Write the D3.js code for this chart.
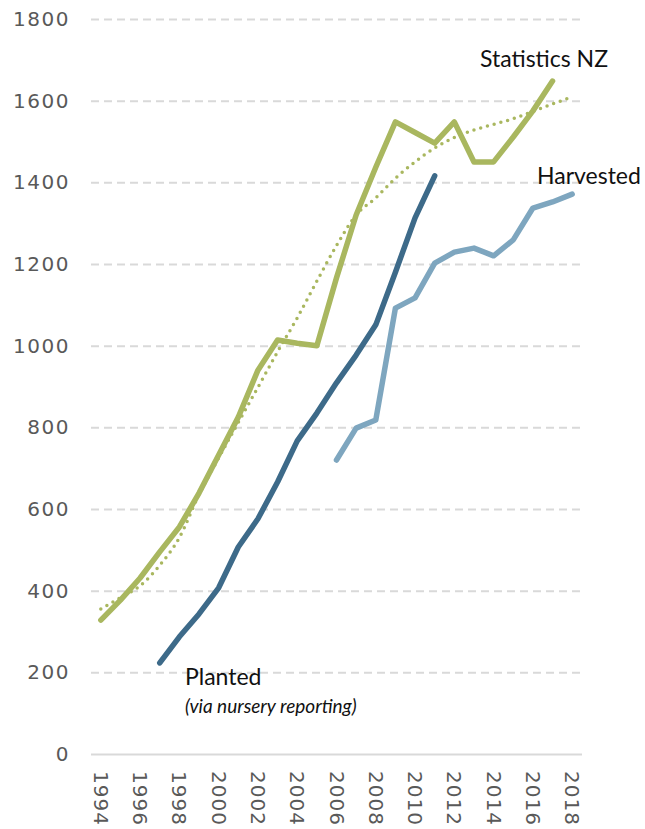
<!DOCTYPE html>
<html>
<head>
<meta charset="utf-8">
<script src="https://cdn.jsdelivr.net/npm/d3@7"></script>
<style>
  html, body { margin: 0; padding: 0; background: #fff; }
  svg { display: block; }
</style>
</head>
<body>
<svg id="chart" width="645" height="829"></svg>
<script>
const years = d3.range(1994, 2019);
const yTicks = [0, 200, 400, 600, 800, 1000, 1200, 1400, 1600, 1800];
const xTickYears = [1994, 1996, 1998, 2000, 2002, 2004, 2006, 2008, 2010, 2012, 2014, 2016, 2018];

// Statistics NZ (1994-2017)
const statsYears = d3.range(1994, 2018);
const statsValues = [328, 377, 431, 495, 556, 639, 732, 825, 940, 1014, 1006, 1000, 1166, 1320, 1437, 1548, 1522, 1496, 1548, 1450, 1450, 1511, 1575, 1648];

// Trend line (dotted, 1994-2018)
const trendYears = d3.range(1994, 2019);
const trendValues = [355, 383, 412, 462, 530, 635, 725, 812, 898, 985, 1068, 1158, 1245, 1320, 1362, 1410, 1450, 1484, 1510, 1528, 1542, 1556, 1574, 1592, 1609];

// Planted (via nursery reporting) 1997-2011
const plantedYears = d3.range(1997, 2012);
const plantedValues = [223, 287, 343, 407, 507, 576, 666, 767, 835, 909, 977, 1051, 1180, 1313, 1416];

// Harvested 2006-2018
const harvestYears = d3.range(2006, 2019);
const harvestValues = [720, 798, 818, 1092, 1117, 1202, 1229, 1239, 1220, 1259, 1337, 1352, 1371];

const svg = d3.select("#chart");
const margin = { left: 91, right: 63, top: 19, bottom: 75 };
const W = 645, H = 829;

const x = d3.scaleBand().domain(years).range([margin.left, W - margin.right]).paddingInner(0).paddingOuter(0);
const xc = d => x(d) + x.bandwidth() / 2;
const y = d3.scaleLinear().domain([0, 1800]).range([H - margin.bottom, margin.top]);

// gridlines
const yAxis = d3.axisLeft(y).tickValues(yTicks).tickSize(-(W - margin.right - margin.left)).tickPadding(21).tickFormat(d3.format("d"));
const gy = svg.append("g").attr("transform", `translate(${margin.left},0)`).call(yAxis);
gy.select(".domain").remove();
gy.selectAll(".tick line")
  .attr("stroke", "#d9d9d9")
  .attr("stroke-width", 2)
  .attr("stroke-dasharray", d => d === 0 ? null : "8,5");
gy.selectAll(".tick text")
  .attr("fill", "#595959")
  .attr("font-family", "DejaVu Sans, sans-serif")
  .attr("font-size", 20)
  .attr("letter-spacing", "1.5px");

// x axis labels
const xAxis = d3.axisBottom(x).tickValues(xTickYears).tickSize(0).tickPadding(0);
const gx = svg.append("g").attr("transform", `translate(0,${H - margin.bottom})`).call(xAxis);
gx.select(".domain").remove();
gx.selectAll(".tick text")
  .attr("fill", "#595959")
  .attr("font-family", "DejaVu Sans, sans-serif")
  .attr("font-size", 20)
  .attr("letter-spacing", "1px")
  .attr("text-anchor", "start")
  .attr("dy", "0.35em")
  .attr("transform", "translate(0,17) rotate(90)");

const line = d3.line().x(d => xc(d[0])).y(d => y(d[1]));
const zip = (a, b) => a.map((v, i) => [v, b[i]]);

// trend dotted
svg.append("path")
  .datum(zip(trendYears, trendValues))
  .attr("fill", "none")
  .attr("stroke", "#a9b75f")
  .attr("stroke-width", 3.5)
  .attr("stroke-linecap", "round")
  .attr("stroke-dasharray", "0,7")
  .attr("d", d3.line().x(d => xc(d[0])).y(d => y(d[1])).curve(d3.curveMonotoneX));

const series = [
  { yrs: statsYears, vals: statsValues, color: "#a9b75f" },
  { yrs: plantedYears, vals: plantedValues, color: "#3d6a89" },
  { yrs: harvestYears, vals: harvestValues, color: "#7ea6bf" }
];
series.forEach(s => {
  svg.append("path")
    .datum(zip(s.yrs, s.vals))
    .attr("fill", "none")
    .attr("stroke", s.color)
    .attr("stroke-width", 5.5)
    .attr("stroke-linejoin", "round")
    .attr("stroke-linecap", "round")
    .attr("d", line);
});

// labels
const lab = (t, xx, yy, size, italic) => svg.append("text")
  .attr("x", xx).attr("y", yy)
  .attr("font-family", "Lato, sans-serif")
  .attr("font-size", size)
  .attr("font-style", italic ? "italic" : "normal")
  .attr("fill", "#111")
  .text(t);
lab("Statistics NZ", 480, 67, 23);
lab("Harvested", 537, 184, 23);
lab("Planted", 185, 685, 23);
lab("(via nursery reporting)", 185, 713, 19, true);
</script>
</body>
</html>
